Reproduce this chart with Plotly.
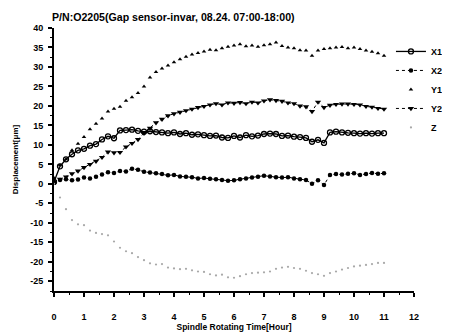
import plotly.graph_objects as go

time_h = [0.0, 0.2, 0.4, 0.6, 0.8, 1.0, 1.2, 1.4, 1.6, 1.8, 2.0, 2.2, 2.4, 2.6, 2.8,
          3.0, 3.2, 3.4, 3.6, 3.8, 4.0, 4.2, 4.4, 4.6, 4.8, 5.0, 5.2, 5.4, 5.6, 5.8,
          6.0, 6.2, 6.4, 6.6, 6.8, 7.0, 7.2, 7.4, 7.6, 7.8, 8.0, 8.2, 8.4, 8.6, 8.8,
          9.0, 9.2, 9.4, 9.6, 9.8, 10.0, 10.2, 10.4, 10.6, 10.8, 11.0]

x1 = [0.5, 4.5, 6.3, 7.6, 8.6, 9.0, 9.8, 10.2, 11.4, 12.2, 11.7, 13.7, 13.8, 13.9, 13.6,
      13.4, 13.5, 13.3, 13.2, 13.0, 13.2, 12.8, 13.0, 12.6, 12.7, 12.5, 12.3, 12.4, 11.9, 11.8,
      12.3, 11.9, 12.5, 12.2, 12.4, 12.8, 12.9, 12.8, 12.3, 12.4, 12.1, 12.0, 11.8, 10.8, 11.3,
      10.5, 13.2, 13.4, 13.2, 13.1, 13.0, 12.9, 13.0, 12.9, 13.0, 13.0]

x2 = [0.3, 1.0, 1.2, 0.9, 1.1, 1.6, 1.4, 1.8, 2.4, 3.0, 2.8, 3.3, 3.2, 3.9, 3.6,
      3.1, 2.9, 2.7, 2.5, 2.2, 2.3, 1.9, 1.8, 1.7, 1.4, 1.5, 1.3, 1.2, 1.0, 0.8,
      0.9, 1.2, 1.4, 1.6, 1.8, 2.1, 1.9, 1.7, 1.6, 1.7, 1.4, 1.2, 1.0, 0.0, 0.9,
      -0.3, 2.3, 2.5, 2.4, 2.6, 2.7, 2.3, 2.5, 2.8, 2.6, 2.7]

y1 = [1.5, 4.8, 6.3, 8.6, 10.3, 12.0, 14.0, 15.4, 16.8, 18.6, 19.3, 19.8, 21.3, 22.2, 23.3,
      25.0, 27.3, 28.7, 29.6, 30.4, 31.2, 32.0, 32.6, 33.2, 33.6, 34.0, 34.4, 34.3, 34.8, 35.2,
      35.5, 35.8, 35.3, 35.5, 35.2, 35.6, 35.8, 36.3, 35.4, 35.0, 34.8, 34.3, 34.2, 32.9, 34.2,
      34.6, 34.8, 35.0, 35.1, 34.8, 35.0, 34.6, 34.2, 33.9, 33.5, 32.9]

y2 = [0.5, 1.2, 1.8, 2.6, 3.3, 4.2, 5.0, 5.8, 6.8, 8.2, 8.0, 8.1, 9.5, 10.4, 11.4,
      13.0, 14.3, 15.7, 16.6, 17.5, 18.0, 18.4, 18.8, 19.2, 19.6, 19.9, 20.3, 20.6, 20.3, 20.8,
      20.7, 20.9, 20.6, 21.0, 20.8, 21.3, 21.6, 21.4, 21.2, 20.8, 20.6, 20.0, 19.8, 18.6, 21.0,
      19.6, 20.2, 20.4, 20.5, 20.5, 20.4, 20.3, 19.9, 19.7, 19.4, 19.2]

z = [0.0, -3.5, -6.5, -9.3, -10.4, -10.6, -12.0, -12.6, -12.9, -13.2, -14.8, -16.4, -17.3, -17.8, -18.8,
     -19.6, -20.4, -20.7, -20.6, -21.5, -21.7, -21.9, -21.8, -22.2, -22.5, -22.6, -23.2, -23.5, -23.3, -24.0,
     -24.1, -23.7, -23.2, -22.9, -22.8, -22.7, -22.5, -21.8, -21.5, -21.3, -21.6, -21.8, -22.3, -22.9, -23.2,
     -23.6, -22.9, -22.5, -22.0, -21.6, -21.2, -21.0, -20.8, -20.6, -20.3, -20.3]

x_ticks = [0, 1, 2, 3, 4, 5, 6, 7, 8, 9, 10, 11, 12]
y_ticks = [-25, -20, -15, -10, -5, 0, 5, 10, 15, 20, 25, 30, 35, 40]

FONT = "Liberation Sans"
W, H = 442, 326  # page has an 8px body margin

fig = go.Figure()
fig.add_trace(go.Scatter(x=time_h, y=x1, name="X1", mode="lines+markers",
                         line=dict(color="black", width=1.3),
                         marker=dict(symbol="circle-open", size=5, color="black",
                                     line=dict(width=1.3, color="black"))))
fig.add_trace(go.Scatter(x=time_h, y=x2, name="X2", mode="lines+markers",
                         line=dict(color="black", width=1, dash="dot"),
                         marker=dict(symbol="circle", size=4.5, color="black")))
fig.add_trace(go.Scatter(x=time_h, y=y1, name="Y1", mode="markers",
                         marker=dict(symbol="triangle-up", size=4, color="black")))
fig.add_trace(go.Scatter(x=time_h, y=y2, name="Y2", mode="lines+markers",
                         line=dict(color="black", width=1, dash="dot"),
                         marker=dict(symbol="triangle-down", size=5.5, color="black")))
fig.add_trace(go.Scatter(x=time_h, y=z, name="Z", mode="markers",
                         marker=dict(symbol="circle", size=2.2, color="#a8a8a8")))

axis_common = dict(showgrid=False, zeroline=False, showline=True, linecolor="black",
                   linewidth=2, ticks="outside", ticklen=4, tickwidth=1.5, tickcolor="black",
                   automargin=False,
                   tickfont=dict(family=FONT, size=9, color="black", weight="bold"),
                   minor=dict(ticks="outside", ticklen=2, tickwidth=1, tickcolor="black"))

fig.update_xaxes(range=[0, 12], tickvals=x_ticks, ticktext=[str(v) for v in x_ticks],
                 minor_dtick=0.5, ticklabelstandoff=12,
                 title=dict(text="Spindle Rotating Time[Hour]",
                            font=dict(family=FONT, size=8.5, color="black", weight="bold"),
                            standoff=2),
                 **axis_common)
fig.update_yaxes(range=[-27.5, 40], tickvals=y_ticks, ticktext=[str(v) for v in y_ticks],
                 minor_dtick=2.5, ticklabelstandoff=3,
                 title=dict(text="Displacement[μm]",
                            font=dict(family=FONT, size=8, color="black", weight="bold"),
                            standoff=10),
                 **axis_common)

fig.update_layout(
    width=W, height=H,
    margin=dict(l=46, r=W - 46 - 360, t=20, b=43, autoexpand=False),
    plot_bgcolor="white", paper_bgcolor="white",
    title=dict(text="P/N:O2205(Gap sensor-invar, 08.24. 07:00-18:00)",
               x=44/W, xref="container", xanchor="left",
               y=1-9/H, yref="container", yanchor="middle",
               font=dict(family=FONT, size=10.6, color="black", weight="bold")),
    legend=dict(x=0.936, y=0.966, xanchor="left", yanchor="top",
                bgcolor="rgba(0,0,0,0)", borderwidth=0,
                font=dict(family=FONT, size=9, color="black", weight="bold"),
                tracegroupgap=0, itemwidth=30),
    showlegend=True,
)

fig.write_html("out.html")
